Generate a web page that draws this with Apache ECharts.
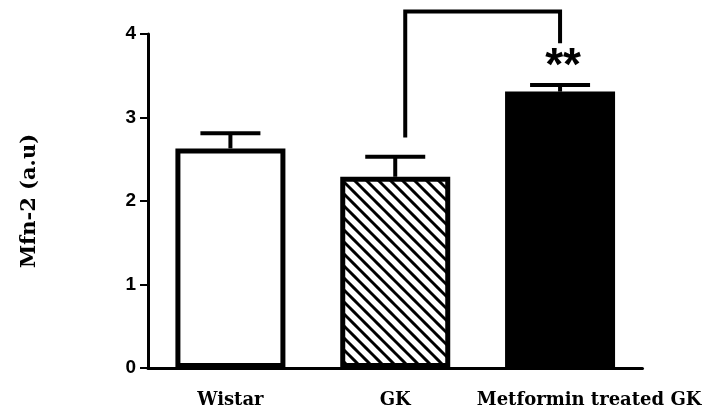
<!DOCTYPE html>
<html><head><meta charset="utf-8">
<script src="https://cdn.jsdelivr.net/npm/echarts@6/dist/echarts.min.js"></script>
<style>html,body{margin:0;padding:0;background:#fff}#c{width:704px;height:419px}</style>
</head><body><div id="c"></div>
<script>
const categories = ['Wistar', 'GK', 'Metformin treated GK'];
const means = [2.63, 2.29, 3.31];
const errUpper = [2.81, 2.53, 3.39];
const yTicks = [0, 1, 2, 3, 4];
// significance bracket: between categories 1 and 2
const bracket = {from: 1, to: 2, top: 4.27, leftBottom: 2.76, rightBottom: 3.89, starY: 3.6, label: '**'};

// hatch pattern
const pc = document.createElement('canvas');
pc.width = 12; pc.height = 12;
const pctx = pc.getContext('2d');
pctx.fillStyle = '#fff'; pctx.fillRect(0,0,12,12);
pctx.strokeStyle = '#000'; pctx.lineWidth = 3;
pctx.beginPath();
pctx.moveTo(-6,0); pctx.lineTo(18,24);
pctx.moveTo(-6,-12); pctx.lineTo(18,12);
pctx.moveTo(-18,-12); pctx.lineTo(6,12);
pctx.moveTo(6,-12); pctx.lineTo(30,12);
pctx.moveTo(-6,-24); pctx.lineTo(18,0);
pctx.stroke();

const fills = ['#fff', {image: pc, repeat: 'repeat'}, '#000'];

const chart = echarts.init(document.getElementById('c'));
chart.setOption({
  animation: false,
  grid: {left: 148, right: 59, top: 34, bottom: 51},
  xAxis: {
    type: 'category',
    data: categories.map((c, i) => i === 2 ? {value: c, textStyle: {padding: [0, 0, 0, 58]}} : c),
    axisLine: {lineStyle: {color: '#000', width: 3}},
    axisTick: {alignWithLabel: true, length: 7, lineStyle: {width: 2, color: '#000'}},
    axisLabel: {interval: 0, color: '#000', fontFamily: 'DejaVu Serif', fontWeight: 'bold', fontSize: 18, margin: 23}
  },
  yAxis: {
    type: 'value', min: 0, max: 4, interval: 1,
    name: 'Mfn-2 (a.u)', nameLocation: 'middle', nameGap: 108, nameRotate: 90,
    nameTextStyle: {color: '#000', fontFamily: 'DejaVu Serif', fontWeight: 'bold', fontSize: 21},
    splitLine: {show: false},
    axisLine: {show: true, lineStyle: {color: '#000', width: 3}},
    axisTick: {show: true, length: 8, lineStyle: {width: 2, color: '#000'}},
    axisLabel: {color: '#000', fontFamily: '"Liberation Sans Narrow", "Liberation Sans"', fontWeight: 'bold', fontSize: 19, margin: 12,
      formatter: v => yTicks.includes(v) ? String(v) : ''}
  },
  series: [
    {
      type: 'bar', barWidth: 110,
      data: means.map((v, i) => ({value: v, itemStyle: {color: fills[i], borderColor: '#000', borderWidth: 5}})),
      z: 2
    },
    {
      type: 'custom', z: 1,
      data: means.map((m, i) => [i, m, errUpper[i]]),
      renderItem: (params, api) => {
        const base = api.coord([api.value(0), api.value(1)]);
        const top = api.coord([api.value(0), api.value(2)]);
        const hw = 30;
        return {type: 'group', children: [
          {type: 'line', shape: {x1: base[0], y1: base[1], x2: top[0], y2: top[1]}, style: {stroke: '#000', lineWidth: 4}},
          {type: 'line', shape: {x1: top[0]-hw, y1: top[1], x2: top[0]+hw, y2: top[1]}, style: {stroke: '#000', lineWidth: 4}}
        ]};
      }
    },
    {
      type: 'custom', z: 3, clip: false,
      data: [[bracket.from, bracket.to, bracket.top, bracket.leftBottom, bracket.rightBottom, bracket.starY]],
      renderItem: (params, api) => {
        const dx = 10;
        const lb = api.coord([api.value(0), api.value(3)]);
        const lt = api.coord([api.value(0), api.value(2)]);
        const rt = api.coord([api.value(1), api.value(2)]);
        const rb = api.coord([api.value(1), api.value(4)]);
        const st = api.coord([api.value(1), api.value(5)]);
        return {type: 'group', children: [
          {type: 'polyline', shape: {points: [[lb[0] + dx, lb[1]], [lt[0] + dx, lt[1]], rt, rb]}, style: {stroke: '#000', lineWidth: 4, fill: null}},
          {type: 'text', style: {text: bracket.label, x: st[0] + 3, y: st[1], align: 'center', verticalAlign: 'middle',
            font: 'bold 46px "Liberation Sans"', fill: '#000'}}
        ]};
      }
    }
  ]
});
</script></body></html>
